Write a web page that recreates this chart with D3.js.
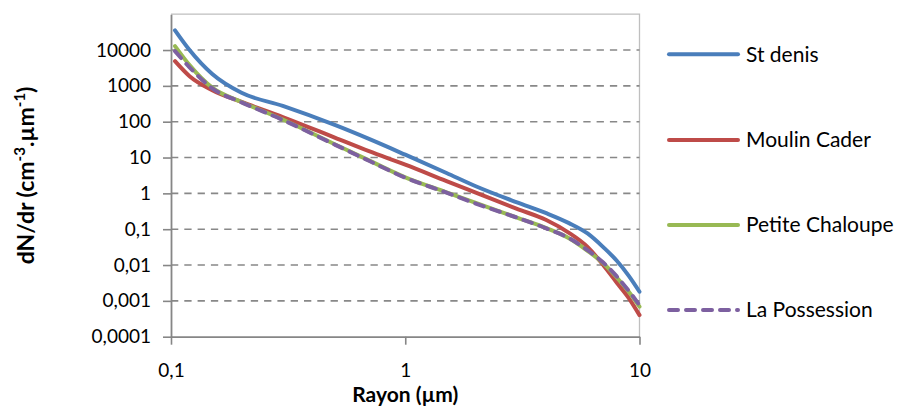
<!DOCTYPE html>
<html><head><meta charset="utf-8">
<script src="https://cdn.jsdelivr.net/npm/d3@7"></script>
<style>html,body{margin:0;padding:0;background:#fff;}svg{display:block;font-family:Lato,"Open Sans",sans-serif;}</style>
</head><body>
<svg id="c" width="901" height="407"></svg>
<script>
const radius = [0.104, 0.12, 0.15, 0.2, 0.3, 0.5, 0.7, 1, 1.5, 2, 3, 4, 5, 6, 7, 8, 9, 10];
const stDenis = [35500, 10000, 2140, 640, 275, 81, 33, 12, 3.7, 1.58, 0.56, 0.28, 0.148, 0.076, 0.0316, 0.0132, 0.005, 0.0018];
const moulinCader = [4900, 1860, 760, 355, 135, 36, 15, 6.3, 2.2, 1.05, 0.37, 0.18, 0.079, 0.032, 0.01, 0.0032, 0.0012, 0.0004];
const petiteChaloupe = [12900, 3800, 890, 355, 115, 23.4, 8.3, 2.8, 1.07, 0.54, 0.21, 0.107, 0.056, 0.025, 0.0112, 0.0045, 0.0018, 0.00069];
const laPossession = [9300, 3300, 850, 347, 112, 23, 8.1, 2.75, 1.05, 0.52, 0.21, 0.105, 0.056, 0.026, 0.0117, 0.0048, 0.0019, 0.00076];
const seriesNames = ["St denis", "Moulin Cader", "Petite Chaloupe", "La Possession"];
const seriesColors = ["#4a7ebb", "#be4b48", "#98b954", "#7d60a0"];
const yTicks = [10000, 1000, 100, 10, 1, 0.1, 0.01, 0.001, 0.0001];
const yTickLabels = ["10000", "1000", "100", "10", "1", "0,1", "0,01", "0,001", "0,0001"];
const xTicks = [0.1, 1, 10];
const xTickLabels = ["0,1", "1", "10"];

const svg = d3.select("#c");
const L = 171, R = 639.5, T = 14.2, B = 336.7;
const x = d3.scaleLog().domain([0.1, 10]).range([L, R]);
const y = d3.scaleLog().domain([0.0001, 100000]).range([B, T]);

// plot border (top/right)
svg.append("path").attr("d", `M${L},${T}H${R}V${B}`).attr("fill", "none").attr("stroke", "#bfbfbf").attr("stroke-width", 1.3);

// gridlines
svg.append("g").selectAll("line").data(yTicks.filter(d => d > 0.0001)).join("line")
  .attr("x1", L).attr("x2", R).attr("y1", d => y(d)).attr("y2", d => y(d))
  .attr("stroke", "#888").attr("stroke-width", 1.6).attr("stroke-dasharray", "7.3,6");

// axes
const yAxis = d3.axisLeft(y).tickValues(yTicks).tickFormat((d, i) => yTickLabels[i]).tickSizeOuter(0).tickSizeInner(8).tickPadding(12);
const gy = svg.append("g").attr("transform", `translate(${L},0)`).call(yAxis);
const xAxis = d3.axisBottom(x).tickValues(xTicks).tickFormat((d, i) => xTickLabels[i]).tickSizeOuter(0).tickSizeInner(8).tickPadding(19);
const gx = svg.append("g").attr("transform", `translate(0,${B})`).call(xAxis);
[gx, gy].forEach(g => {
  g.select(".domain").attr("stroke", "#868686").attr("stroke-width", 1.8);
  g.selectAll(".tick line").attr("stroke", "#868686").attr("stroke-width", 1.6);
  g.selectAll("text").attr("fill", "#000").style("font-size", "19px").style("font-family", "Lato");
});

// lines
const allSeries = [stDenis, moulinCader, petiteChaloupe, laPossession];
const line = d3.line().x((d, i) => x(radius[i])).y(d => y(d)).curve(d3.curveMonotoneX);
allSeries.forEach((s, k) => {
  svg.append("path").datum(s).attr("d", line).attr("fill", "none")
    .attr("stroke", seriesColors[k]).attr("stroke-width", 4)
    .attr("stroke-linecap", "round").attr("stroke-linejoin", "round")
    .attr("stroke-dasharray", k === 3 ? "9,8" : null);
});

// axis titles
svg.append("text").attr("x", (L + R) / 2).attr("y", 402).attr("text-anchor", "middle")
  .style("font-weight", "bold").style("font-size", "21px").text("Rayon (µm)");
const yt = svg.append("text").attr("transform", `translate(34,${(T + B) / 2}) rotate(-90)`)
  .attr("text-anchor", "middle").style("font-weight", "bold").style("font-size", "23px");
yt.append("tspan").text("dN/dr (cm");
yt.append("tspan").attr("dy", -9).style("font-size", "15px").text("-3");
yt.append("tspan").attr("dy", 9).text(".µm");
yt.append("tspan").attr("dy", -9).style("font-size", "15px").text("-1");
yt.append("tspan").attr("dy", 9).text(")");

// legend
const legY = [54.3, 140, 225, 310];
seriesNames.forEach((n, k) => {
  svg.append("line").attr("x1", 669).attr("x2", 738).attr("y1", legY[k]).attr("y2", legY[k])
    .attr("stroke", seriesColors[k]).attr("stroke-width", 4).attr("stroke-linecap", "round")
    .attr("stroke-dasharray", k === 3 ? "9,8" : null);
  svg.append("text").attr("x", 746).attr("y", legY[k]).attr("dy", "0.35em")
    .style("font-size", "21px").text(n);
});
</script>
</body></html>
